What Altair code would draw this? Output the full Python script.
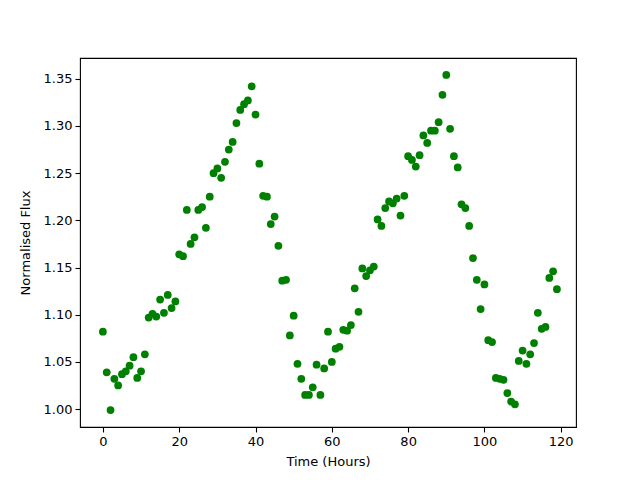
import altair as alt
import pandas as pd

hours = list(range(0, 120))
flux = [
    1.082, 1.039, 0.999, 1.032, 1.025, 1.037, 1.040, 1.046, 1.055, 1.033,
    1.040, 1.058, 1.097, 1.101, 1.098, 1.116, 1.102, 1.121, 1.107, 1.114,
    1.164, 1.162, 1.211, 1.175, 1.182, 1.211, 1.214, 1.192, 1.225, 1.250,
    1.255, 1.245, 1.262, 1.275, 1.283, 1.303, 1.317, 1.323, 1.327, 1.342,
    1.312, 1.260, 1.226, 1.225, 1.196, 1.204, 1.173, 1.136, 1.137, 1.078,
    1.099, 1.048, 1.032, 1.015, 1.015, 1.023, 1.047, 1.015, 1.043, 1.082,
    1.050, 1.064, 1.066, 1.084, 1.083, 1.089, 1.128, 1.103, 1.149, 1.141,
    1.147, 1.151, 1.201, 1.194, 1.213, 1.220, 1.218, 1.223, 1.205, 1.226,
    1.268, 1.264, 1.257, 1.269, 1.290, 1.282, 1.295, 1.295, 1.304, 1.333,
    1.354, 1.297, 1.268, 1.256, 1.217, 1.213, 1.194, 1.160, 1.137, 1.106,
    1.132, 1.073, 1.071, 1.033, 1.032, 1.031, 1.017, 1.008, 1.005, 1.051,
    1.062, 1.048, 1.058, 1.070, 1.102, 1.085, 1.087, 1.139, 1.146, 1.127,
]
x_ticks = [0, 20, 40, 60, 80, 100, 120]
y_ticks = [1.00, 1.05, 1.10, 1.15, 1.20, 1.25, 1.30, 1.35]

df = pd.DataFrame({"hours": hours, "flux": flux})

font = "DejaVu Sans"

chart = alt.Chart(df).mark_circle(size=60, color="#008000", opacity=1).encode(
    x=alt.X("hours:Q", title="Time (Hours)",
            scale=alt.Scale(domain=[-6, 124], nice=False, zero=False),
            axis=alt.Axis(values=x_ticks, format="d")),
    y=alt.Y("flux:Q", title="Normalised Flux",
            scale=alt.Scale(domain=[0.981, 1.372], nice=False, zero=False),
            axis=alt.Axis(values=y_ticks, format=".2f")),
).properties(
    width=496, height=369,
    autosize=alt.AutoSizeParams(type="none"),
    padding={"left": 72, "top": 50, "right": 56, "bottom": 45},
).configure_view(
    stroke="black", strokeWidth=1.1
).configure_axis(
    grid=False, domain=False,
    tickColor="black", tickSize=5, tickWidth=1.1,
    labelColor="black", labelFont=font, labelFontSize=13, labelPadding=3,
    titleColor="black", titleFont=font, titleFontSize=13, titleFontWeight="normal",
).configure_axisX(titlePadding=7).configure_axisY(titlePadding=11)

chart.save("out.html", embed_options={"renderer": "svg", "actions": False})
